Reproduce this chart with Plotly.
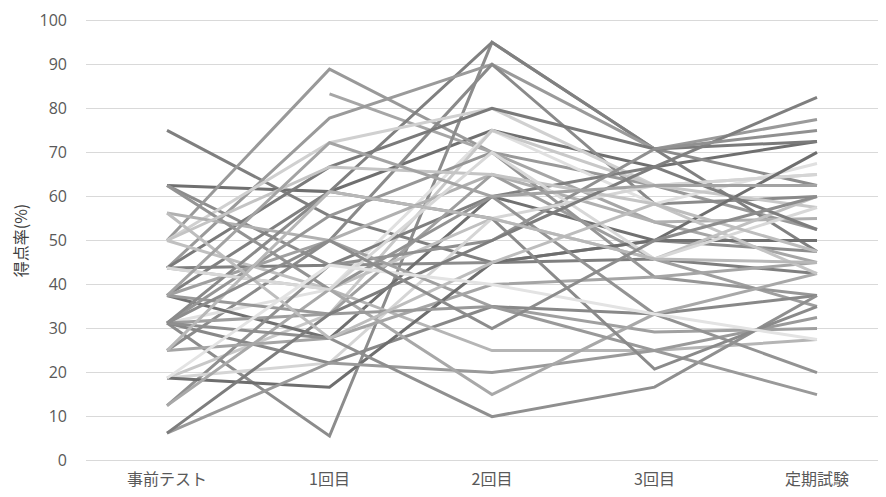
import plotly.graph_objects as go

categories = ["事前テスト", "1回目", "2回目", "3回目", "定期試験"]
y_ticks = [0, 10, 20, 30, 40, 50, 60, 70, 80, 90, 100]

s01 = [75, 55.6, 45, 45.8, 42.5]
s02 = [62.5, 61.1, 75, 66.7, 72.5]
s03 = [62.5, 44.4, 45, 50, 47.5]
s04 = [50, 88.9, 70, 62.5, 52.5]
s05 = [None, 83.3, 70, 54.2, 45]
s06 = [31.25, 5.6, 95, 70.8, 62.5]
s07 = [37.5, 61.1, 95, 70.8, 47.5]
s08 = [43.75, 77.8, 90, 70.8, 77.5]
s09 = [25, 50, 90, 58.3, 60]
s10 = [50, 72.2, 80, 62.5, 65]
s11 = [43.75, 66.7, 80, 70.8, 72.5]
s12 = [31.25, 38.9, 75, 58.3, 67.5]
s13 = [18.75, 33.3, 75, 62.5, 57.5]
s14 = [56.25, 50, 65, 54.2, 55]
s15 = [43.75, 44.4, 60, 66.7, 82.5]
s16 = [37.5, 27.8, 60, 50, 50]
s17 = [31.25, 33.3, 65, 45.8, 35]
s18 = [50, 38.9, 55, 45.8, 60]
s19 = [31.25, 55.6, 70, 41.7, 37.5]
s20 = [12.5, 44.4, 50, 70.8, 75]
s21 = [18.75, 22.2, 55, 62.5, 65]
s22 = [37.5, 50, 35, 29.2, 30]
s23 = [31.25, 22.2, 35, 33.3, 37.5]
s24 = [43.75, 38.9, 25, 25, 27.5]
s25 = [25, 27.8, 40, 41.7, 45]
s26 = [18.75, 16.7, 45, 50, 70]
s27 = [6.25, 22.2, 20, 25, 32.5]
s28 = [12.5, 38.9, 15, 33.3, 42.5]
s29 = [31.25, 27.8, 10, 16.7, 37.5]
s30 = [62.5, 38.9, 60, 33.3, 20]
s31 = [37.5, 33.3, 35, 25, 15]
s32 = [31.25, 61.1, 55, 20.8, 35]
s33 = [50, 66.7, 65, 58.3, 42.5]
s34 = [43.75, 38.9, 70, 45.8, 57.5]
s35 = [6.25, 33.3, 50, 66.7, 52.5]
s36 = [56.25, 27.8, 45, 58.3, 47.5]
s37 = [18.75, 44.4, 40, 33.3, 27.5]
s38 = [37.5, 72.2, 60, 62.5, 62.5]
s39 = [25, 61.1, 55, 45.8, 45]
s40 = [31.25, 50, 30, 50, 60]

series = [s01, s02, s03, s04, s05, s06, s07, s08, s09, s10,
          s11, s12, s13, s14, s15, s16, s17, s18, s19, s20,
          s21, s22, s23, s24, s25, s26, s27, s28, s29, s30,
          s31, s32, s33, s34, s35, s36, s37, s38, s39, s40]

colors = ["#7f7f7f", "#6f6f6f", "#8c8c8c", "#999999", "#a6a6a6",
          "#8c8c8c", "#808080", "#9a9a9a", "#8a8a8a", "#d0d0d0",
          "#7a7a7a", "#e0e0e0", "#c8c8c8", "#b0b0b0", "#7f7f7f",
          "#707070", "#9e9e9e", "#c0c0c0", "#969696", "#909090",
          "#d5d5d5", "#a0a0a0", "#888888", "#b5b5b5", "#a5a5a5",
          "#6e6e6e", "#9a9a9a", "#a8a8a8", "#8f8f8f", "#939393",
          "#999999", "#8a8a8a", "#c4c4c4", "#d8d8d8", "#7d7d7d",
          "#bdbdbd", "#e3e3e3", "#a3a3a3", "#b8b8b8", "#8c8c8c"]

xpos = list(range(len(categories)))

fig = go.Figure()
for vals, col in zip(series, colors):
    fig.add_trace(go.Scatter(
        x=xpos, y=vals, mode="lines",
        line=dict(color=col, width=3),
        connectgaps=False, showlegend=False, hoverinfo="skip"))

num_font = "Open Sans, Noto Sans CJK JP, sans-serif"
jp_font = "Noto Sans CJK JP, sans-serif"

fig.update_layout(
    width=878, height=489,
    margin=dict(l=78, r=0, t=11, b=35),
    paper_bgcolor="white", plot_bgcolor="white",
    font=dict(family=num_font, color="#595959", size=16),
    xaxis=dict(
        range=[-0.4985, 4.4246],
        tickmode="array", tickvals=xpos, ticktext=categories,
        showgrid=False, zeroline=False, showline=False,
        ticks="", ticklabelstandoff=6,
        tickfont=dict(size=16, color="#595959", family=jp_font),
    ),
    yaxis=dict(
        range=[-0.3, 100.3],
        tickmode="array", tickvals=y_ticks,
        showgrid=True, gridcolor="#d9d9d9", gridwidth=1,
        zeroline=False, showline=False, ticks="",
        ticklabelstandoff=18,
        tickfont=dict(size=16, color="#595959", family=num_font),
        title=dict(text="得点率(%)", standoff=12,
                   font=dict(size=16, color="#404040", family=jp_font)),
    ),
)

fig.write_html("out.html")
